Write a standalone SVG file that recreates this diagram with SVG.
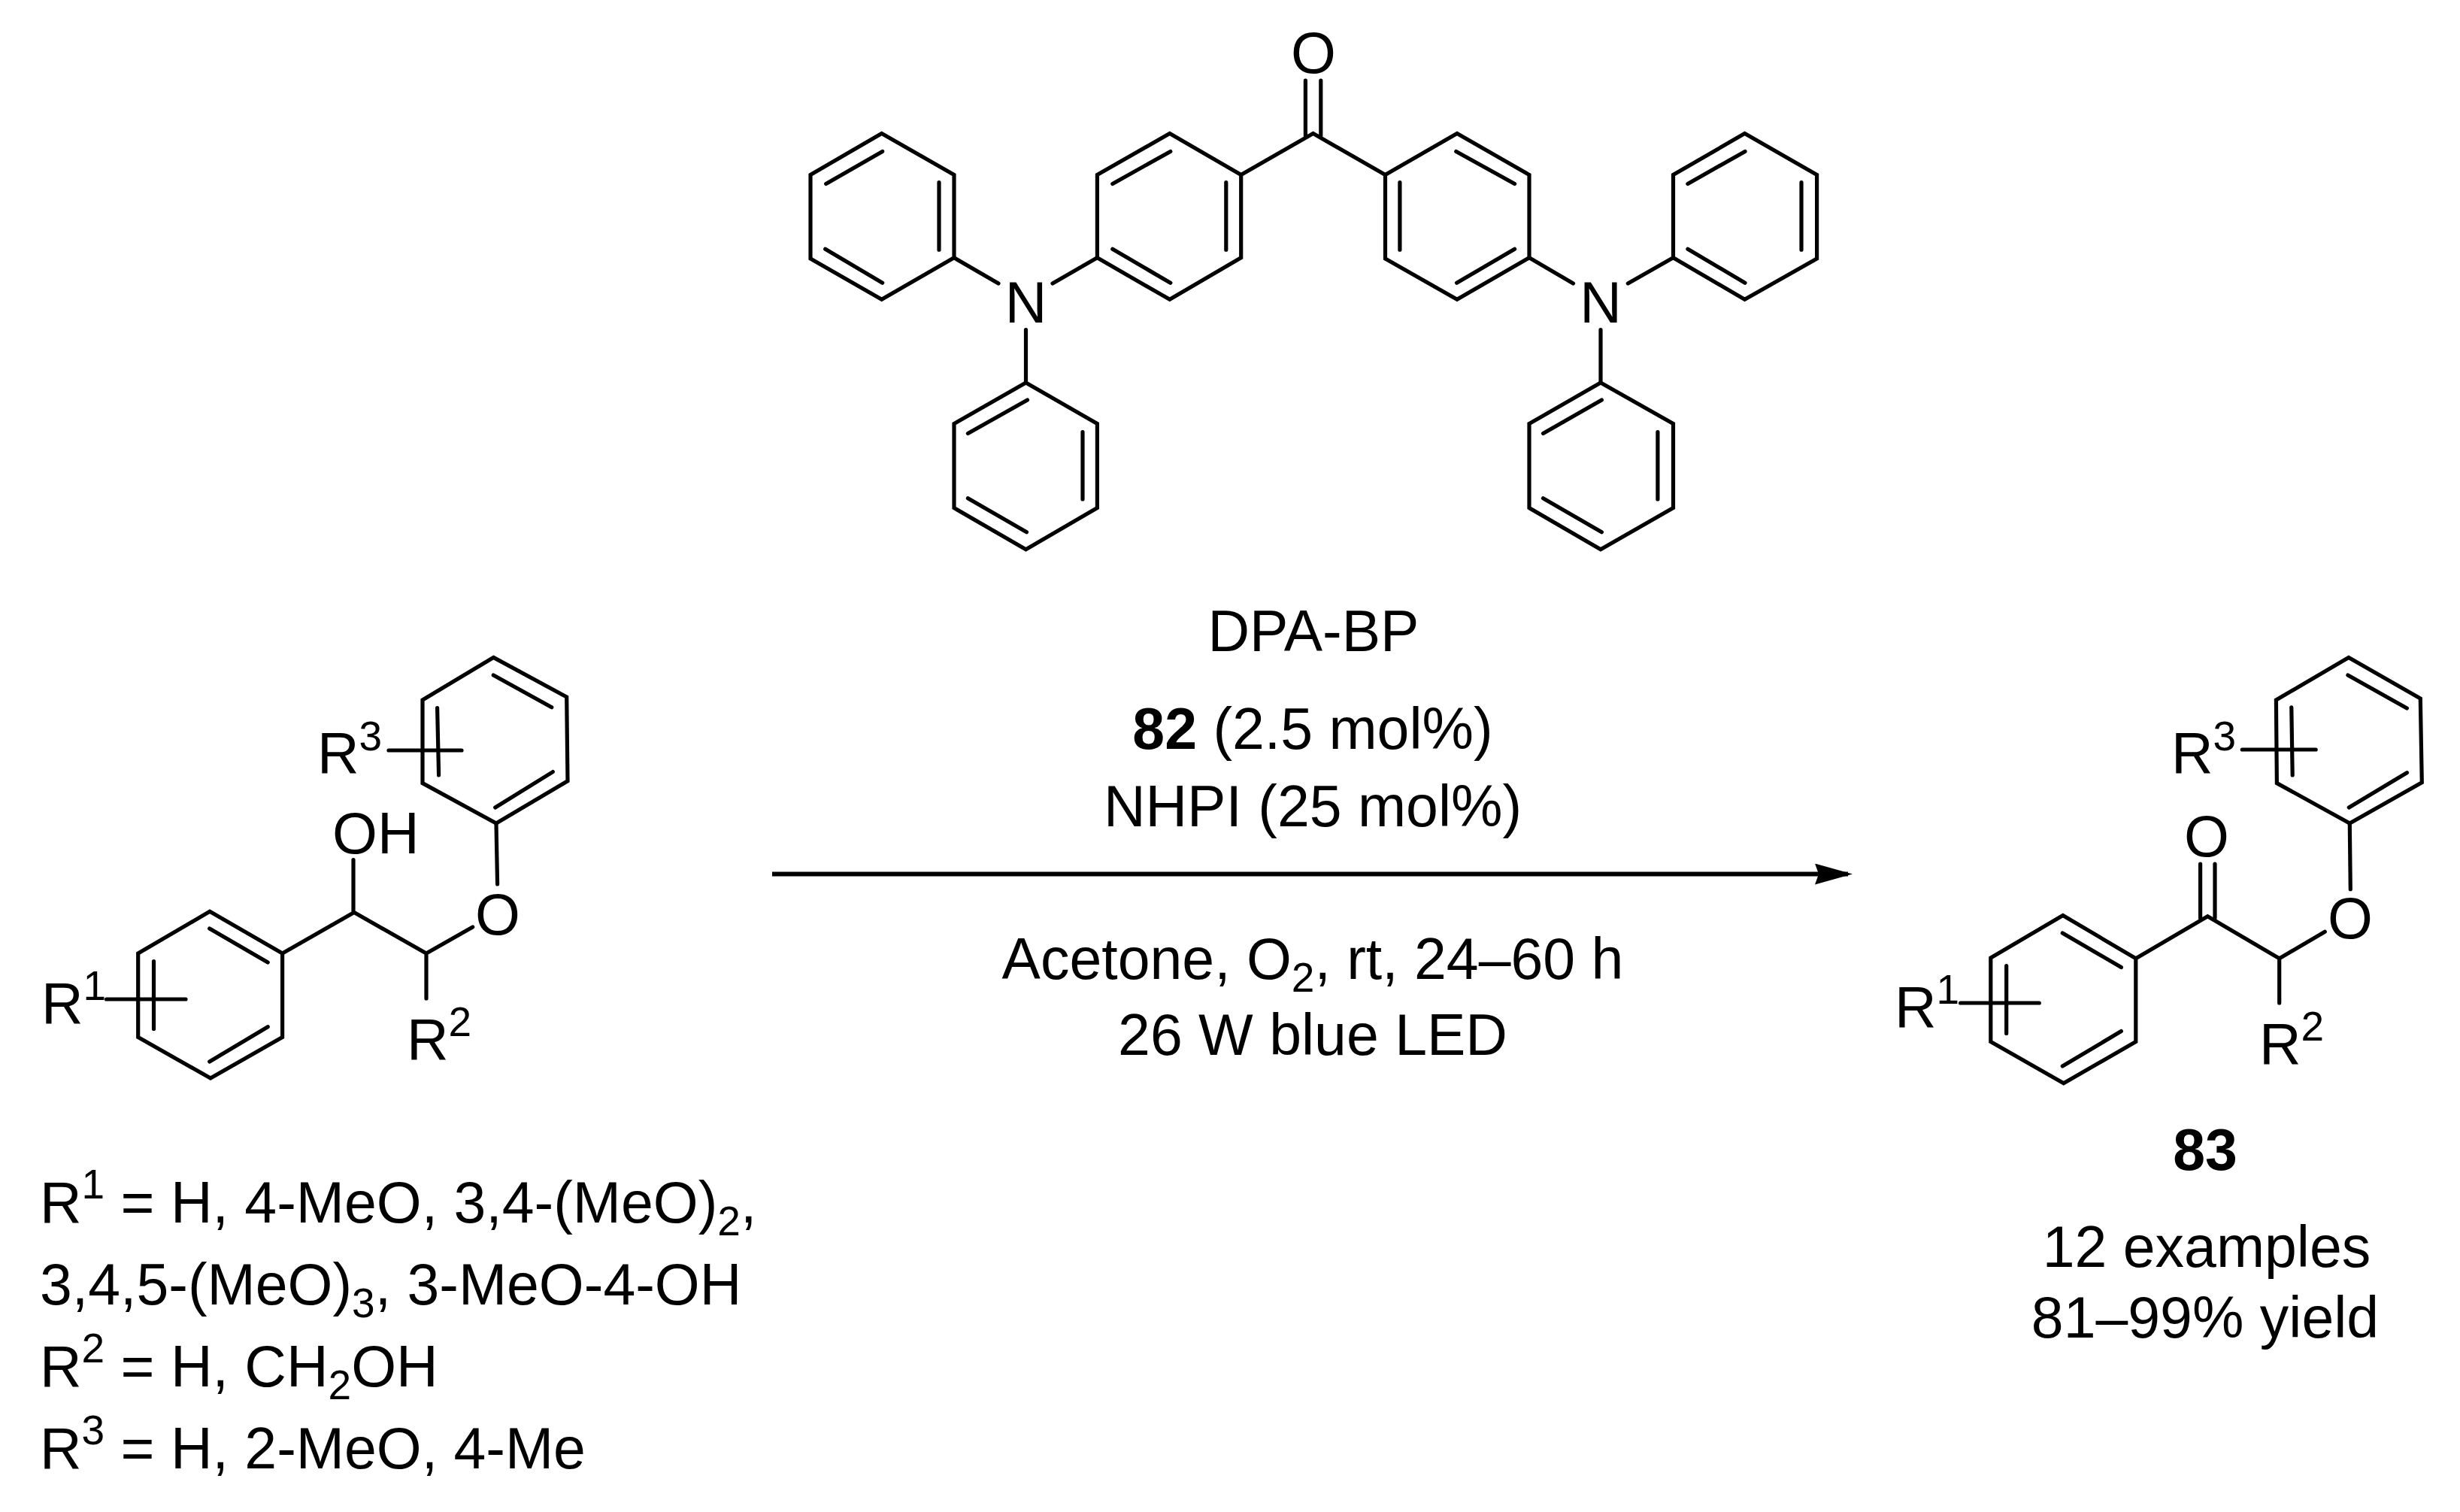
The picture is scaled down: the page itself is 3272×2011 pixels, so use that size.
<svg xmlns="http://www.w3.org/2000/svg" width="3272" height="2011" viewBox="0 0 3272 2011">
<defs>
<style>
.b{fill:none;stroke:#000;stroke-width:5.2;stroke-linecap:round;stroke-linejoin:miter}
text{font-family:"Liberation Sans",Arial,sans-serif;font-size:77px;fill:#000}
.c{text-anchor:middle}
.s{font-size:55px}
.n{font-weight:bold}
</style>
<marker id="head" markerUnits="userSpaceOnUse" markerWidth="54" markerHeight="30" refX="44" refY="14" orient="auto">
<path d="M0 0L50 14L0 28L5 14Z" fill="#000"/>
</marker>
</defs>
<rect width="3272" height="2011" fill="#fff"/>
<g id="catalyst-DPA-BP">
<path class="b" d="M1172.7 177.5L1269 232.6V342.8L1172.7 398.3L1078 344V232.6Z M1098.7 244.5L1173.7 201.4 M1249 242.7V332.2 M1097.7 331.3L1173.7 376.3"/>
<path class="b" d="M1555.8 177.5L1650.7 232.6V342.8L1555.8 398.3L1459.4 342.8V232.6Z M1479.8 244.5L1556.8 201.4 M1630.8 242.7V332.2 M1479.8 331.3L1556.8 376.3"/>
<path class="b" d="M1364.5 509L1459.4 563.6V675.6L1364.5 730.7L1269 675.6V563.6Z M1287.4 576.5L1366.5 532 M1440 574.6V664 M1287.4 662.8L1365.5 707.8"/>
<path class="b" d="M1269 342.8L1328 377 M1459.4 342.8L1400 377 M1364.5 438.7V509"/>
<path class="b" d="M1650.7 232.6L1746.6 177.5L1842.5 232.6 M1736.4 107.2V180.7 M1756.8 107.2V180.7"/>
<path class="b" d="M1842.5 232.6L1938 177.5L2034 232.6V342.8L1938 398.3L1842.5 344Z M1861.9 242.7V332.2 M1936.8 201.4L2014.6 244.5 M1937.6 376.3L2014.6 331.3"/>
<path class="b" d="M2225.5 232.6L2320.6 177.5L2416.6 232.6V344L2320.6 398.3L2225.5 342.8Z M2244.9 244.5L2321 201.4 M2396 242.7V332.2 M2244.9 331.3L2321 376.3"/>
<path class="b" d="M2129 509L2225.5 563.6V675.6L2129 730.7L2034 675.6V563.6Z M2052.5 576.5L2130.4 532 M2204.9 574.6V664 M2052.5 662.8L2130.4 707.8"/>
<path class="b" d="M2034 342.8L2092.5 377 M2225.5 342.8L2165.3 377 M2129 438.7V509"/>
<text class="c" x="1364.5" y="428.6">N</text>
<text class="c" x="2129" y="428.6">N</text>
<text class="c" x="1747" y="97">O</text>
<text class="c" x="1747" y="866">DPA-BP</text>
</g>
<g id="substrate">
<path class="b" d="M656.3 874.4L753.7 927L755 1038.8L660 1095L562 1041.6V931Z M656.3 898L733.8 940.8 M658.7 1074L735.3 1026.6 M581.6 941.6L583.6 1031 M517 998H614"/>
<path class="b" d="M279 1212.3L375.6 1268V1379.5L280 1434L183.7 1379.5V1268Z M278.7 1235L356.2 1280 M278.7 1412L356.2 1365.7 M204.5 1278.7V1368.5 M141.5 1329H247"/>
<path class="b" d="M375.6 1268L471 1213.5L567 1268L628.7 1233 M470 1143.6V1213.5 M567 1268V1328 M660 1096L661.6 1176"/>
<text x="422" y="1027.7">R<tspan class="s" dy="-30">3</tspan></text>
<text x="442" y="1134.5">OH</text>
<text class="c" x="662" y="1243">O</text>
<text x="541" y="1409">R<tspan class="s" dy="-31">2</tspan></text>
<text x="55" y="1360.5">R<tspan class="s" dy="-31">1</tspan></text>
</g>
<g id="product-83">
<path class="b" d="M3123.9 874.4L3219.3 929L3221.3 1040.8L3125.3 1095L3028.4 1041.6L3027.4 931Z M3122.9 898L3201.4 942 M3124.3 1074L3201.4 1027.7 M3047.8 940.8L3049.2 1031 M2982.3 997H3080.2"/>
<path class="b" d="M2743.8 1217.5L2840.8 1274.8V1385.5L2744.8 1440.8L2647.8 1385.5V1274Z M2743.3 1241L2821.4 1286.6 M2743.3 1418L2821.4 1371.6 M2668.7 1284.7V1374.4 M2607.6 1334H2712.3"/>
<path class="b" d="M2840.8 1274.8L2936.3 1218.7L3031.7 1274.8L3092.3 1239.2 M2926.6 1149V1221 M2946 1149V1221 M3031.7 1274.8V1334 M3125.3 1096L3126.3 1182.7"/>
<text x="2888" y="1027.7">R<tspan class="s" dy="-30">3</tspan></text>
<text class="c" x="2935" y="1139">O</text>
<text class="c" x="3126" y="1248">O</text>
<text x="3005" y="1415">R<tspan class="s" dy="-31">2</tspan></text>
<text x="2520" y="1365.7">R<tspan class="s" dy="-31">1</tspan></text>
<text class="c n" x="2933" y="1556">83</text>
<text class="c" x="2935" y="1684.7">12 examples</text>
<text class="c" x="2933" y="1779">81–99% yield</text>
</g>
<g id="conditions">
<text class="c" x="1746" y="995.5"><tspan class="n">82</tspan> (2.5 mol%)</text>
<text class="c" x="1746" y="1098.5">NHPI (25 mol%)</text>
<text class="c" x="1746" y="1301.5">Acetone, O<tspan class="s" dy="17">2</tspan><tspan dy="-17">, rt, 24–60 h</tspan></text>
<text class="c" x="1746" y="1402.8">26 W blue LED</text>
</g>
<g id="r-group-legend">
<text x="53" y="1625.5">R<tspan class="s" dy="-32">1</tspan><tspan dy="32"> = H, 4-MeO, 3,4-(MeO)</tspan><tspan class="s" dy="17">2</tspan><tspan dy="-17">,</tspan></text>
<text x="53" y="1735">3,4,5-(MeO)<tspan class="s" dy="17">3</tspan><tspan dy="-17">, 3-MeO-4-OH</tspan></text>
<text x="53" y="1843.7">R<tspan class="s" dy="-32">2</tspan><tspan dy="32"> = H, CH</tspan><tspan class="s" dy="17">2</tspan><tspan dy="-17">OH</tspan></text>
<text x="53" y="1952.7">R<tspan class="s" dy="-32">3</tspan><tspan dy="32"> = H, 2-MeO, 4-Me</tspan></text>
</g>
<g id="connectors">
<line x1="1027" y1="1162.5" x2="2458" y2="1162.5" stroke="#000" stroke-width="6" marker-end="url(#head)"/>
</g>
</svg>
